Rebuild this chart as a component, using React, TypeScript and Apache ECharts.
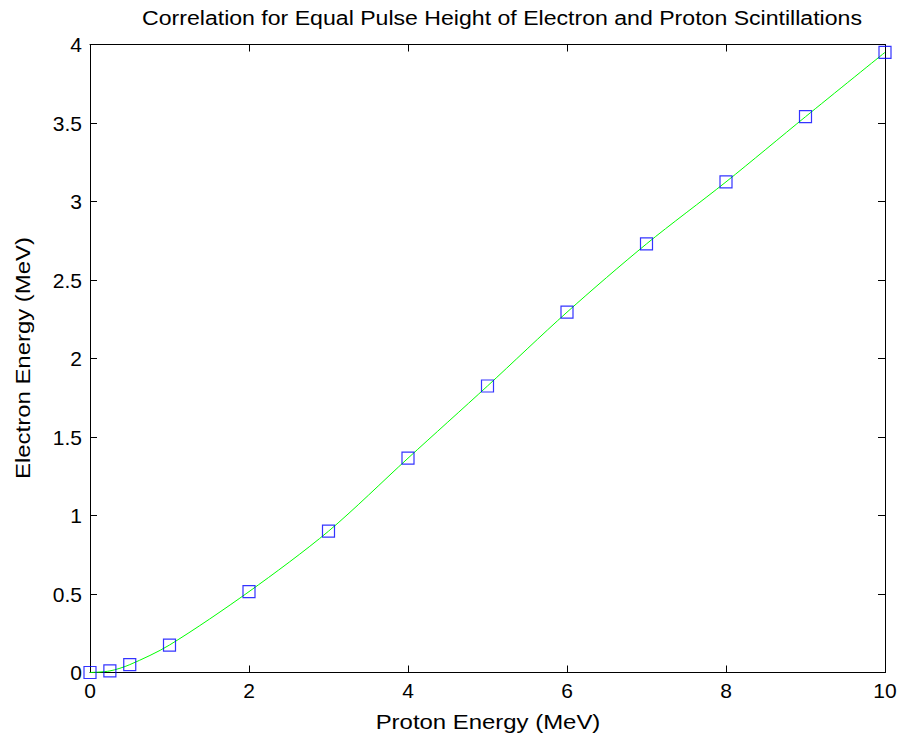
import React, { useEffect, useRef } from "react";
import * as echarts from "echarts";

const protonEnergy = [0, 0.25, 0.5, 1, 2, 3, 4, 5, 6, 7, 8, 9, 10];
const electronEnergy = [0, 0.01, 0.05, 0.175, 0.515, 0.9, 1.365, 1.825, 2.295, 2.73, 3.125, 3.54, 3.95];
const titleText = "Correlation for Equal Pulse Height of Electron and Proton Scintillations";
const xName = "Proton Energy (MeV)";
const yName = "Electron Energy (MeV)";

export default function App() {
  const ref = useRef<HTMLDivElement>(null);
  useEffect(() => {
    const chart = echarts.init(ref.current!, null, { renderer: "svg" });
    const pts = protonEnergy.map((x, i) => [x, electronEnergy[i]]);
    const font = "'Liberation Sans', Arial, Helvetica, sans-serif";
    const axisCommon = {
      type: "value" as const,
      axisLine: { show: true, onZero: false, lineStyle: { color: "#000", width: 1 } },
      axisTick: { show: true, inside: true, length: 7, lineStyle: { color: "#000" } },
      splitLine: { show: false },
    };
    const label = (text: string, x: number, y: number, size: number, sx: number, rot = 0) => ({
      type: "text",
      x,
      y,
      rotation: rot,
      scaleX: sx,
      silent: true,
      style: {
        x: 0,
        y: 0,
        text,
        fontSize: size,
        fontFamily: font,
        fill: "#000",
        align: "center",
        verticalAlign: "middle",
      },
    });
    chart.setOption({
      animation: false,
      backgroundColor: "#fff",
      textStyle: { fontFamily: font },
      graphic: [
        label(titleText, 502, 18, 21, 1.1),
        label(xName, 488, 722, 21, 1.14),
        label(yName, 23.5, 358, 21, 1.14, Math.PI / 2),
      ],
      grid: { left: 90, right: 17, top: 44.5, bottom: 67.5, containLabel: false },
      xAxis: [
        {
          ...axisCommon,
          min: 0,
          max: 10,
          interval: 2,
          position: "bottom",
          axisLabel: { fontSize: 21, color: "#000", margin: 7, fontFamily: font },
        },
        {
          ...axisCommon,
          min: 0,
          max: 10,
          interval: 2,
          position: "top",
          axisLabel: { show: false },
        },
      ],
      yAxis: [
        {
          ...axisCommon,
          min: 0,
          max: 4,
          interval: 0.5,
          position: "left",
          axisLabel: { fontSize: 21, color: "#000", margin: 8, fontFamily: font },
        },
        {
          ...axisCommon,
          min: 0,
          max: 4,
          interval: 0.5,
          position: "right",
          axisLabel: { show: false },
        },
      ],
      series: [
        {
          type: "line",
          data: pts,
          smooth: 0.3,
          showSymbol: false,
          symbol: "none",
          lineStyle: { color: "#00ff00", width: 1 },
          z: 2,
        },
        {
          type: "scatter",
          data: pts,
          symbol: "rect",
          symbolSize: 12,
          itemStyle: { color: "rgba(0,0,0,0)", borderColor: "#0000ff", borderWidth: 1.2 },
          z: 3,
        },
      ],
    });
    return () => chart.dispose();
  }, []);
  return (
    <div
      ref={ref}
      style={{ position: "absolute", left: 0, top: 0, width: 902, height: 740 }}
    />
  );
}
